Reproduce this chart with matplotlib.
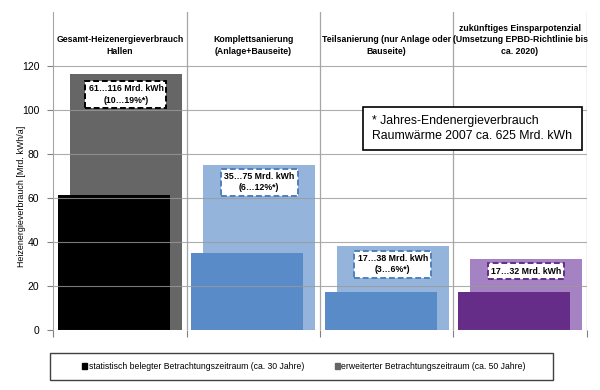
import matplotlib
matplotlib.use("Agg")
import matplotlib.pyplot as plt
from matplotlib.patches import Patch, Rectangle

plt.rcParams["font.family"] = ["Liberation Sans", "DejaVu Sans"]

# data
categories = [
    "Gesamt-Heizenergieverbrauch\nHallen",
    "Komplettsanierung\n(Anlage+Bauseite)",
    "Teilsanierung (nur Anlage oder\nBauseite)",
    "zukünftiges Einsparpotenzial\n(Umsetzung EPBD-Richtlinie bis\nca. 2020)",
]
low_values = [61, 35, 17, 17]      # statistisch belegter Zeitraum
high_values = [116, 75, 38, 32]    # erweiterter Zeitraum
box_texts = [
    "61…116 Mrd. kWh\n(10…19%*)",
    "35…75 Mrd. kWh\n(6…12%*)",
    "17…38 Mrd. kWh\n(3…6%*)",
    "17…32 Mrd. kWh",
]
box_y = [106.9, 66.9, 29.6, 26.6]
legend_labels = [
    "statistisch belegter Betrachtungszeitraum (ca. 30 Jahre)",
    "erweiterter Betrachtungszeitraum (ca. 50 Jahre)",
]

low_colors = ["#000000", "#5a8bc9", "#5a8bc9", "#652d88"]
high_colors = ["#666666", "#95b4dc", "#95b4dc", "#a582c2"]
box_edges = ["#000000", "#4f81bd", "#4f81bd", "#652d88"]

fig = plt.figure(figsize=(6, 3.9), dpi=100)
ax = fig.add_axes([53.3 / 600, 60.5 / 390, 533.4 / 600, 317.5 / 390])

x = range(len(categories))
off = 0.045
w = 0.84
ax.bar([i + off for i in x], high_values, width=w, color=high_colors, zorder=1)
ax.bar([i - off for i in x], low_values, width=w, color=low_colors, zorder=1)

ax.set_xlim(-0.5, 3.5)
ax.set_ylim(0, 144.4)
ax.set_yticks(range(0, 121, 20))
ax.tick_params(axis="y", labelsize=7.5, length=4, color="#808080", pad=6)
ax.set_xticks([-0.5, 0.5, 1.5, 2.5, 3.5])
ax.set_xticklabels([])
ax.tick_params(axis="x", length=5, color="#808080")

for yv in range(0, 121, 20):
    ax.axhline(yv, color="#999999", lw=0.8, alpha=0.8, zorder=1.5)
for xv in [0.5, 1.5, 2.5, 3.5]:
    ax.axvline(xv, color="#a6a6a6", lw=0.9, zorder=1.5)

for s in ["top", "right", "bottom"]:
    ax.spines[s].set_visible(False)
ax.spines["left"].set_color("#a6a6a6")

ax.set_ylabel("Heizenergieverbrauch [Mrd. kWh/a]", fontsize=6.4)
ax.yaxis.set_label_coords(-0.052, 0.42)

for i, lab in enumerate(categories):
    ax.text(i, 124.6, lab, ha="center", va="bottom", fontsize=6.3,
            fontweight="bold", linespacing=1.35)

for i, t in enumerate(box_texts):
    ax.text(i + off, box_y[i], t, ha="center", va="center", fontsize=6.3,
            fontweight="bold", linespacing=1.3, zorder=5,
            bbox=dict(boxstyle="square,pad=0.35", fc="white", ec=box_edges[i],
                      ls=(0, (3, 1.5)), lw=1.4))

# note box
fig.patches.append(Rectangle((362.7 / 600, 1 - 150 / 390), 219.3 / 600, 43 / 390,
                             transform=fig.transFigure, fc="white", ec="black",
                             lw=1.2, zorder=5))
fig.text(372 / 600, 1 - 128.5 / 390,
         "* Jahres-Endenergieverbrauch\nRaumwärme 2007 ca. 625 Mrd. kWh",
         ha="left", va="center", fontsize=8.8, linespacing=1.35, zorder=6)

# legend
fig.patches.append(Rectangle((50 / 600, 1 - 380 / 390), 503 / 600, 27 / 390,
                             transform=fig.transFigure, fc="white", ec="#404040",
                             lw=1.0))
handles = [Patch(color="#000000"), Patch(color="#666666")]
fig.legend(handles, legend_labels, loc="center", ncol=2, frameon=False,
           bbox_to_anchor=(304 / 600, 1 - 366.5 / 390), fontsize=6.2,
           handlelength=0.6, handleheight=0.6, handletextpad=0.2,
           columnspacing=3.5)

fig.savefig("out.png", dpi=100)
